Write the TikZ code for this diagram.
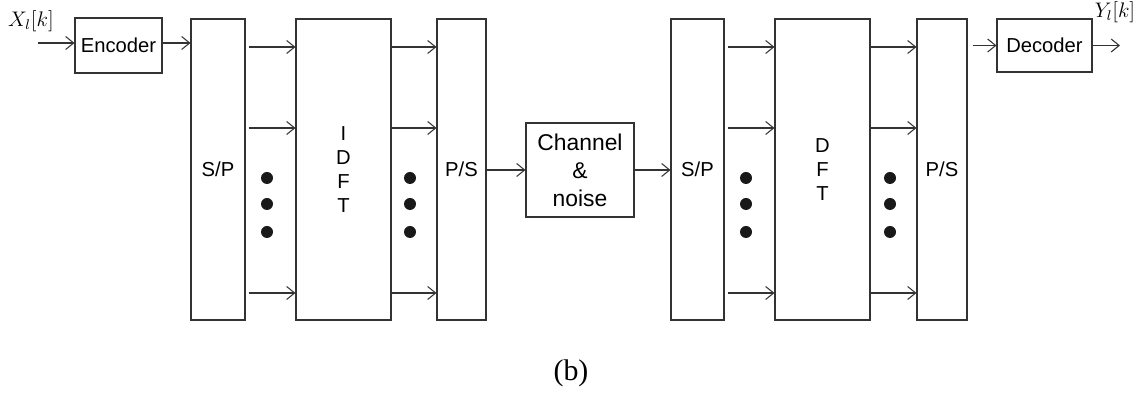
\documentclass[tikz,border=0pt]{standalone}
\usepackage{fontspec}
\setmainfont{Liberation Serif}
\setsansfont{Liberation Sans}
\usepackage{tikz}
\usetikzlibrary{arrows.meta, positioning, calc}

\begin{document}
\begin{tikzpicture}[>={Straight Barb[length=1.6mm, width=2.6mm]},
  blk/.style={draw=black!80, line width=0.6pt, inner sep=0pt, align=center,
              font=\sffamily\fontsize{11.5}{13.6}\selectfont},
  arr/.style={->, draw=black!80, line width=0.6pt},
  sig/.style={inner sep=0pt, font=\fontsize{11.5}{13}\selectfont}]

\useasboundingbox (0,0) rectangle (22.82,-7.92);

% ---- Transmitter ------------------------------------------------------
\node[blk, minimum width=1.74cm, minimum height=1.10cm] (enc) at (2.37,-0.91) {Encoder};
\node[blk, minimum width=1.08cm, minimum height=6.02cm] (sp1) at (4.36,-3.39) {S/P};
\node[blk, minimum width=1.90cm, minimum height=6.02cm] (idft) at (6.87,-3.39) {I\\D\\F\\T};
\node[blk, minimum width=0.98cm, minimum height=6.02cm] (ps1) at (9.23,-3.39) {P/S};

% ---- Channel -------------------------------------------------------------
\node[blk, minimum width=2.16cm, minimum height=1.88cm,
      font=\sffamily\fontsize{13}{16}\selectfont] (ch) at (11.60,-3.40) {Channel\\\&\\noise};

% ---- Receiver ------------------------------------------------------------
\node[blk, minimum width=1.06cm, minimum height=6.02cm] (sp2) at (13.95,-3.39) {S/P};
\node[blk, minimum width=1.90cm, minimum height=6.02cm] (dft) at (16.45,-3.39) {D\\F\\T};
\node[blk, minimum width=1.00cm, minimum height=6.02cm] (ps2) at (18.84,-3.39) {P/S};
\node[blk, minimum width=1.90cm, minimum height=1.06cm] (dec) at (20.89,-0.91) {Decoder};

% ---- Signals -------------------------------------------------------------
\node[sig] (xlab) at (0.62,-0.42) {$X_l[k]$};
\node[sig] (ylab) at (22.30,-0.24) {$Y_l[k]$};
\coordinate (xin) at (0.76,-0.86);
\coordinate (yout) at (22.40,-0.91);

\draw[arr] (xin) -- (enc.west |- xin);
\draw[arr] (enc.east |- xin) -- (sp1.west |- xin);
\draw[arr] (ps1.east |- ch.west) -- (ch.west);
\draw[arr] (ch.east) -- (sp2.west |- ch.east);
\draw[arr, shorten <=0.1cm] (ps2.east |- dec.west) -- (dec.west);
\draw[arr] (dec.east) -- (yout);

% ---- Parallel branches ---------------------------------------------------
\coordinate (r1) at (0,-0.94);
\coordinate (r2) at (0,-2.56);
\coordinate (r3) at (0,-5.86);
\foreach \r in {r1,r2,r3}{
  \draw[arr, shorten <=0.06cm] (sp1.east |- \r) -- (idft.west |- \r);
  \draw[arr] (idft.east |- \r) -- (ps1.west |- \r);
  \draw[arr, shorten <=0.06cm] (sp2.east |- \r) -- (dft.west |- \r);
  \draw[arr] (dft.east |- \r) -- (ps2.west |- \r);
}
\foreach \x in {5.34,8.20,14.92,17.80}
  \foreach \y in {-3.56,-4.08,-4.64}{\fill[black!90] (\x,\y) circle (0.12);}

% ---- Caption -------------------------------------------------------------
\node[font=\rmfamily\fontsize{17}{19}\selectfont] (cap) at (11.42,-7.46) {(b)};

\end{tikzpicture}
\end{document}
